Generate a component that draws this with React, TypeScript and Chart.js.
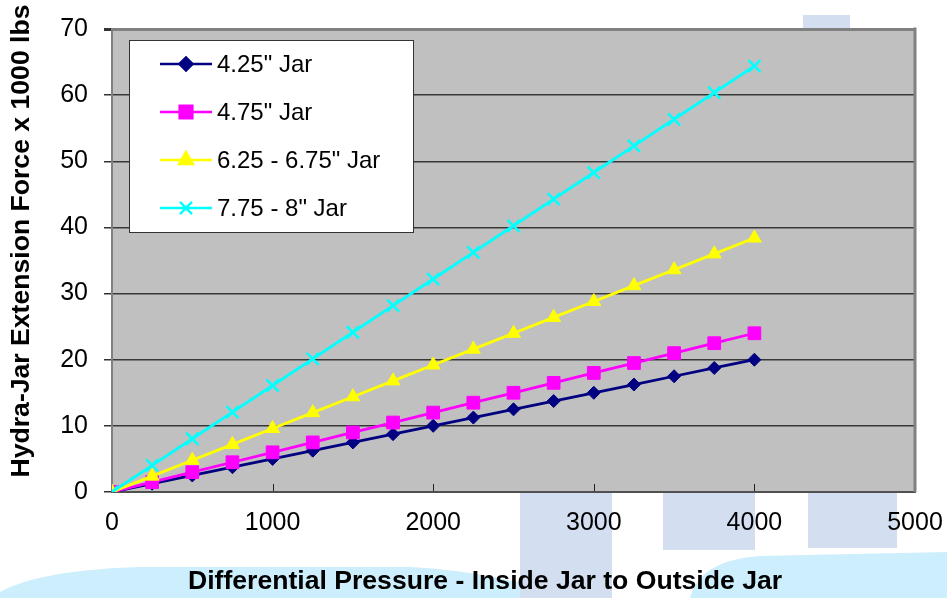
import React, { useEffect, useRef } from 'react';
import { Chart, registerables } from 'chart.js';
import { drawPoint } from 'chart.js/helpers';

Chart.register(...registerables);

const pressure = [0, 250, 500, 750, 1000, 1250, 1500, 1750, 2000, 2250, 2500, 2750, 3000, 3250, 3500, 3750, 4000];
const jar425 = [0, 1.25, 2.5, 3.75, 5, 6.25, 7.5, 8.75, 10, 11.25, 12.5, 13.75, 15, 16.25, 17.5, 18.75, 20];
const jar475 = [0, 1.5, 3, 4.5, 6, 7.5, 9, 10.5, 12, 13.5, 15, 16.5, 18, 19.5, 21, 22.5, 24];
const jar625 = [0, 2.4, 4.8, 7.2, 9.6, 12, 14.4, 16.8, 19.2, 21.6, 24, 26.4, 28.8, 31.2, 33.6, 36, 38.4];
const jar775 = [0, 4.03, 8.05, 12.08, 16.1, 20.13, 24.15, 28.18, 32.2, 36.23, 40.25, 44.28, 48.3, 52.33, 56.35, 60.38, 64.4];

const seriesLabels = ['4.25" Jar', '4.75" Jar', '6.25 - 6.75" Jar', '7.75 - 8" Jar'];
const seriesValues = [jar425, jar475, jar625, jar775];
const seriesColors = ['#000080', '#FF00FF', '#FFFF00', '#00FFFF'];
const seriesPoints = ['rectRot', 'rect', 'triangle', 'crossRot'];
const seriesRadius = [6.5, 9, 8, 8.5];

const xTitle = 'Differential Pressure - Inside Jar to Outside Jar';
const yTitle = 'Hydra-Jar Extension Force x 1000 lbs';
const xMin = 0, xMax = 5000, xStep = 1000;
const yMin = 0, yMax = 70, yStep = 10;

const FONT = '"Liberation Sans", Arial, Helvetica, sans-serif';

const decorPlugin = {
  id: 'decor',
  beforeDraw(chart: any) {
    const { ctx, chartArea: a, width, height } = chart;
    ctx.save();
    ctx.fillStyle = '#ffffff';
    ctx.fillRect(0, 0, width, height);
    // faint watermark background
    ctx.fillStyle = '#CDEEFC';
    ctx.beginPath();
    ctx.moveTo(0, height);
    ctx.lineTo(0, 592);
    ctx.quadraticCurveTo(40, 570, 140, 567);
    ctx.lineTo(410, 567);
    ctx.quadraticCurveTo(500, 572, 570, height);
    ctx.closePath();
    ctx.fill();
    ctx.beginPath();
    ctx.moveTo(690, height);
    ctx.quadraticCurveTo(700, 560, 760, 556);
    ctx.lineTo(947, 552);
    ctx.lineTo(947, height);
    ctx.closePath();
    ctx.fill();
    ctx.fillStyle = '#D3DEF1';
    ctx.fillRect(520, a.bottom, 92, height - a.bottom);
    ctx.fillRect(663, a.bottom, 92, 58);
    ctx.fillRect(808, a.bottom, 89, 56);
    ctx.fillRect(803, 15, 47, a.top - 15);
    // plot area
    ctx.fillStyle = '#C0C0C0';
    ctx.fillRect(a.left, a.top, a.right - a.left, a.bottom - a.top);
    // inner x tick marks
    const xs = chart.scales.x;
    ctx.strokeStyle = '#222';
    ctx.lineWidth = 1;
    for (let v = xMin + xStep; v <= xMax; v += xStep) {
      const px = Math.round(xs.getPixelForValue(v)) + 0.5;
      ctx.beginPath();
      ctx.moveTo(px, a.bottom);
      ctx.lineTo(px, a.bottom - 8);
      ctx.stroke();
    }
    ctx.restore();
  },
  afterDraw(chart: any) {
    const { ctx, chartArea: a } = chart;
    ctx.save();
    // right border
    ctx.strokeStyle = '#808080';
    ctx.lineWidth = 3;
    ctx.beginPath();
    ctx.moveTo(a.right, a.top - 1.5);
    ctx.lineTo(a.right, a.bottom);
    ctx.stroke();

    // legend
    const lx = 129, ly = 40, lw = 284, lh = 192;
    ctx.fillStyle = '#ffffff';
    ctx.fillRect(lx, ly, lw, lh);
    ctx.strokeStyle = '#333333';
    ctx.lineWidth = 1;
    ctx.strokeRect(lx + 0.5, ly + 0.5, lw, lh);
    ctx.font = `24px ${FONT}`;
    ctx.textBaseline = 'middle';
    ctx.textAlign = 'left';
    seriesLabels.forEach((label, i) => {
      const y = 64 + i * 48;
      ctx.strokeStyle = seriesColors[i];
      ctx.lineWidth = 2.5;
      ctx.beginPath();
      ctx.moveTo(160, y);
      ctx.lineTo(212, y);
      ctx.stroke();
      ctx.fillStyle = seriesColors[i];
      drawPoint(ctx, { pointStyle: seriesPoints[i], radius: seriesRadius[i], rotation: 0, borderWidth: 2.5 } as any, 186, y);
      ctx.fillStyle = '#000';
      ctx.fillText(label, 217, y + 1);
    });

    // axis titles
    ctx.fillStyle = '#000';
    ctx.font = `bold 26.6px ${FONT}`;
    ctx.textAlign = 'center';
    ctx.textBaseline = 'middle';
    ctx.fillText(xTitle, 485, 582);
    ctx.translate(22, 241);
    ctx.rotate(-Math.PI / 2);
    ctx.fillText(yTitle, 0, 0);
    ctx.restore();
  },
};

export default function App() {
  const ref = useRef<HTMLCanvasElement>(null);
  useEffect(() => {
    document.body.style.margin = '0';
    const datasets = seriesLabels.map((label, i) => ({
      label,
      data: pressure.map((x, j) => ({ x, y: seriesValues[i][j] })),
      borderColor: seriesColors[i],
      backgroundColor: seriesColors[i],
      pointStyle: seriesPoints[i],
      pointRadius: seriesRadius[i],
      pointBorderWidth: seriesPoints[i] === 'crossRot' ? 2.5 : 1,
      pointBorderColor: seriesColors[i],
      pointBackgroundColor: seriesColors[i],
      borderWidth: 2.8,
      showLine: true,
      tension: 0,
      order: 3 - i,
    }));
    const chart = new Chart(ref.current!, {
      type: 'scatter',
      data: { datasets },
      plugins: [decorPlugin],
      options: {
        animation: false,
        responsive: false,
        maintainAspectRatio: false,
        layout: { padding: { top: 29, right: 32, left: 0, bottom: 0 } },
        plugins: { legend: { display: false }, tooltip: { enabled: false }, title: { display: false } },
        scales: {
          x: {
            type: 'linear',
            min: xMin,
            max: xMax,
            afterFit: (s: any) => { s.height = 106; s.paddingRight = 0; s.paddingLeft = 0; },
            ticks: { stepSize: xStep, color: '#000', font: { family: FONT, size: 25 }, padding: 16, maxRotation: 0, callback: (v: any) => String(v) },
            grid: { display: true, drawOnChartArea: false, drawTicks: false },
            border: { display: true, color: '#505050', width: 2 },
          },
          y: {
            type: 'linear',
            min: yMin,
            max: yMax,
            afterFit: (s: any) => { s.width = 112; s.paddingTop = 0; s.paddingBottom = 0; },
            ticks: { stepSize: yStep, color: '#000', font: { family: FONT, size: 25 }, padding: 16 },
            grid: {
              drawTicks: true,
              tickLength: 8,
              tickColor: '#333',
              color: (c: any) => (c.tick && c.tick.value === yMax ? '#808080' : c.tick && c.tick.value === yMin ? 'rgba(0,0,0,0)' : '#383838'),
              lineWidth: (c: any) => (c.tick && c.tick.value === yMax ? 3 : 1.5),
            },
            border: { display: true, color: '#808080', width: 2 },
          },
        },
      },
    });
    return () => chart.destroy();
  }, []);
  return (
    <div style={{ position: 'fixed', left: 0, top: 0, width: 947, height: 598 }}>
      <canvas ref={ref} width={947} height={598} style={{ width: 947, height: 598 }} />
    </div>
  );
}
